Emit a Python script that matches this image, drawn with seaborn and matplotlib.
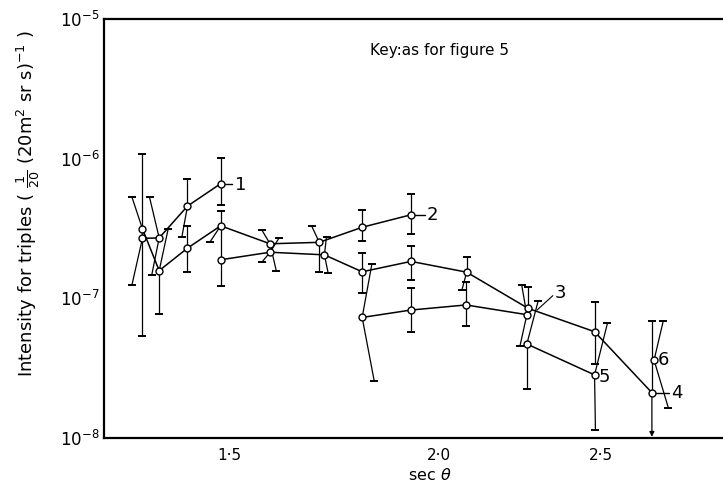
import numpy as np
import pandas as pd
import matplotlib
matplotlib.use("Agg")
import matplotlib.pyplot as plt
import seaborn as sns
from matplotlib.ticker import NullLocator, FixedLocator, FixedFormatter

# values: sec(theta), intensity and the two ends
# of each error bar (several bars are drawn slanted in the original, so each
# end has its own x)
s1_x = [1.331, 1.362, 1.416, 1.482]
s1_y = [2.69e-7, 2.71e-7, 4.58e-7, 6.63e-7]
s1_hi_x = [1.331, 1.344, 1.416, 1.482]
s1_hi_y = [1.09e-6, 5.31e-7, 7.20e-7, 1.02e-6]
s1_lo_x = [1.312, 1.348, 1.405, 1.482]
s1_lo_y = [1.25e-7, 1.46e-7, 2.74e-7, 4.63e-7]

s2_x = [1.331, 1.362, 1.416, 1.482, 1.586, 1.697, 1.800, 1.925]
s2_y = [3.15e-7, 1.58e-7, 2.29e-7, 3.31e-7, 2.46e-7, 2.52e-7, 3.23e-7, 3.97e-7]
s2_hi_x = [1.312, 1.379, 1.416, 1.482, 1.568, 1.679, 1.800, 1.925]
s2_hi_y = [5.31e-7, 3.15e-7, 3.32e-7, 4.19e-7, 3.10e-7, 3.32e-7, 4.26e-7, 5.62e-7]
s2_lo_x = [1.331, 1.362, 1.416, 1.460, 1.600, 1.697, 1.800, 1.925]
s2_lo_y = [5.40e-8, 7.73e-8, 1.55e-7, 2.52e-7, 1.56e-7, 1.54e-7, 2.57e-7, 2.87e-7]

s3_x = [1.800, 1.925, 2.076, 2.257]
s3_y = [7.30e-8, 8.25e-8, 8.97e-8, 7.64e-8]
s3_hi_x = [1.824, 1.925, 2.076, 2.241]
s3_hi_y = [1.75e-7, 1.18e-7, 1.30e-7, 1.25e-7]
s3_lo_x = [1.830, 1.925, 2.076, 2.236]
s3_lo_y = [2.57e-8, 5.70e-8, 6.37e-8, 4.58e-8]

s4_x = [1.482, 1.586, 1.709, 1.800, 1.925, 2.078, 2.261, 2.477, 2.680]
s4_y = [1.89e-7, 2.14e-7, 2.05e-7, 1.55e-7, 1.84e-7, 1.54e-7, 8.48e-8, 5.77e-8, 2.11e-8]
s4_hi_x = [1.482, 1.606, 1.714, 1.800, 1.925, 2.078, 2.261, 2.477, 2.680]
s4_hi_y = [3.20e-7, 2.71e-7, 2.77e-7, 2.10e-7, 2.39e-7, 1.99e-7, 1.21e-7, 9.47e-8, 6.92e-8]
s4_lo_x = [1.482, 1.568, 1.718, 1.800, 1.925, 2.064, np.nan, 2.477, np.nan]
s4_lo_y = [1.23e-7, 1.81e-7, 1.51e-7, 1.10e-7, 1.36e-7, 1.14e-7, np.nan, 3.38e-8, np.nan]

s5_x = [2.257, 2.477]
s5_y = [4.71e-8, 2.83e-8]
s5_hi_x = [2.292, 2.521]
s5_hi_y = [9.52e-8, 6.61e-8]
s5_lo_x = [2.257, 2.480]
s5_lo_y = [2.24e-8, 1.14e-8]

s6_x = [2.688]
s6_y = [3.61e-8]
s6_hi_x = [2.722]
s6_hi_y = [6.87e-8]
s6_lo_x = [2.741]
s6_lo_y = [1.65e-8]

# last point of curve 4 is an upper limit (arrow down to the axis)
limit_x = [2.680]
limit_y = [2.11e-8]

x_ticks = [1.5, 2.0, 2.5]
x_tick_labels = ["1·5", "2·0", "2·5"]
y_ticks = [1e-8, 1e-7, 1e-6, 1e-5]

series = {
    "1": (s1_x, s1_y, s1_hi_x, s1_hi_y, s1_lo_x, s1_lo_y),
    "2": (s2_x, s2_y, s2_hi_x, s2_hi_y, s2_lo_x, s2_lo_y),
    "3": (s3_x, s3_y, s3_hi_x, s3_hi_y, s3_lo_x, s3_lo_y),
    "4": (s4_x, s4_y, s4_hi_x, s4_hi_y, s4_lo_x, s4_lo_y),
    "5": (s5_x, s5_y, s5_hi_x, s5_hi_y, s5_lo_x, s5_lo_y),
    "6": (s6_x, s6_y, s6_hi_x, s6_hi_y, s6_lo_x, s6_lo_y),
}

rows = []
for name, (xs, ys, *_rest) in series.items():
    for order, (xv, yv) in enumerate(zip(xs, ys)):
        rows.append({"curve": name, "order": order, "sec": xv, "intensity": yv})
df = pd.DataFrame(rows)

sns.set_theme(style="white")
plt.rcParams["font.family"] = ["DejaVu Sans"]
plt.rcParams["mathtext.fontset"] = "dejavusans"
plt.rcParams["text.color"] = "black"
plt.rcParams["axes.labelcolor"] = "black"
plt.rcParams["xtick.color"] = "black"
plt.rcParams["ytick.color"] = "black"

fig = plt.figure(figsize=(7.23, 4.91), dpi=100)
ax = fig.add_axes([0.1438, 0.108, 0.8562, 0.853])
ax.set_xscale("log")
ax.set_yscale("log")

# error bars first so the open circles sit on top
for name, (xs, ys, hx, hy, lx, ly) in series.items():
    for i in range(len(xs)):
        for ex, ey in ((hx[i], hy[i]), (lx[i], ly[i])):
            if np.isnan(ey):
                continue
            ax.plot([xs[i], ex], [ys[i], ey], color="black", lw=0.9, zorder=2)
            ax.plot([ex], [ey], marker="_", ms=6, mew=1.4, color="black", zorder=2)

for xv, yv in zip(limit_x, limit_y):
    ax.annotate("", xy=(xv, 1.02e-8), xytext=(xv, yv),
                arrowprops=dict(arrowstyle="-|>", color="black", lw=0.9,
                                mutation_scale=7, shrinkA=0, shrinkB=0),
                zorder=2)

sns.lineplot(data=df, x="sec", y="intensity", units="curve", estimator=None,
             sort=False, color="black", lw=1.1, marker="o", markersize=5,
             markerfacecolor="white", markeredgecolor="black",
             markeredgewidth=1.0, legend=False, ax=ax, zorder=3)

# curve labels with their short leader strokes
lab_kw = dict(fontsize=13, ha="left", va="center", color="black")
ax.plot([1.482, 1.505], [6.63e-7, 6.63e-7], color="black", lw=1.0)
ax.text(1.512, 6.5e-7, "1", **lab_kw)
ax.plot([1.925, 1.962], [3.97e-7, 3.97e-7], color="black", lw=1.0)
ax.text(1.966, 3.97e-7, "2", **lab_kw)
ax.plot([2.289, 2.339], [8.25e-8, 1.046e-7], color="black", lw=0.8)
ax.text(2.345, 1.10e-7, "3", **lab_kw)
ax.plot([2.680, 2.745], [2.11e-8, 2.11e-8], color="black", lw=1.0)
ax.text(2.752, 2.11e-8, "4", **lab_kw)
ax.text(2.490, 2.75e-8, "5", **lab_kw)
ax.text(2.700, 3.61e-8, "6", **lab_kw)

ax.text(0.542, 0.926, "Key:as for figure 5", transform=ax.transAxes,
        ha="center", va="center", fontsize=11)

ax.set_xlim(1.2625, 2.955)
ax.set_ylim(1e-8, 1e-5)
ax.xaxis.set_major_locator(FixedLocator(x_ticks))
ax.xaxis.set_major_formatter(FixedFormatter(x_tick_labels))
ax.xaxis.set_minor_locator(NullLocator())
ax.yaxis.set_major_locator(FixedLocator(y_ticks))
ax.yaxis.set_minor_locator(NullLocator())

ax.tick_params(axis="y", direction="in", length=9, width=1.3, labelsize=12, pad=3)
ax.tick_params(axis="x", direction="in", length=8, width=1.3, labelsize=11, pad=7)

for side in ("top", "left", "bottom"):
    ax.spines[side].set_visible(True)
    ax.spines[side].set_color("black")
    ax.spines[side].set_linewidth(1.6)
ax.spines["right"].set_visible(False)

ax.set_xlabel(r"sec $\theta$", fontsize=11.5)
ax.set_ylabel(r"Intensity for triples ( $\frac{1}{20}$ (20m$^2$ sr s)$^{-1}$ )",
              fontsize=13)
ax.xaxis.set_label_coords(0.527, -0.07)
ax.yaxis.set_label_coords(-0.10, 0.56)

fig.savefig("out.png", dpi=100)
